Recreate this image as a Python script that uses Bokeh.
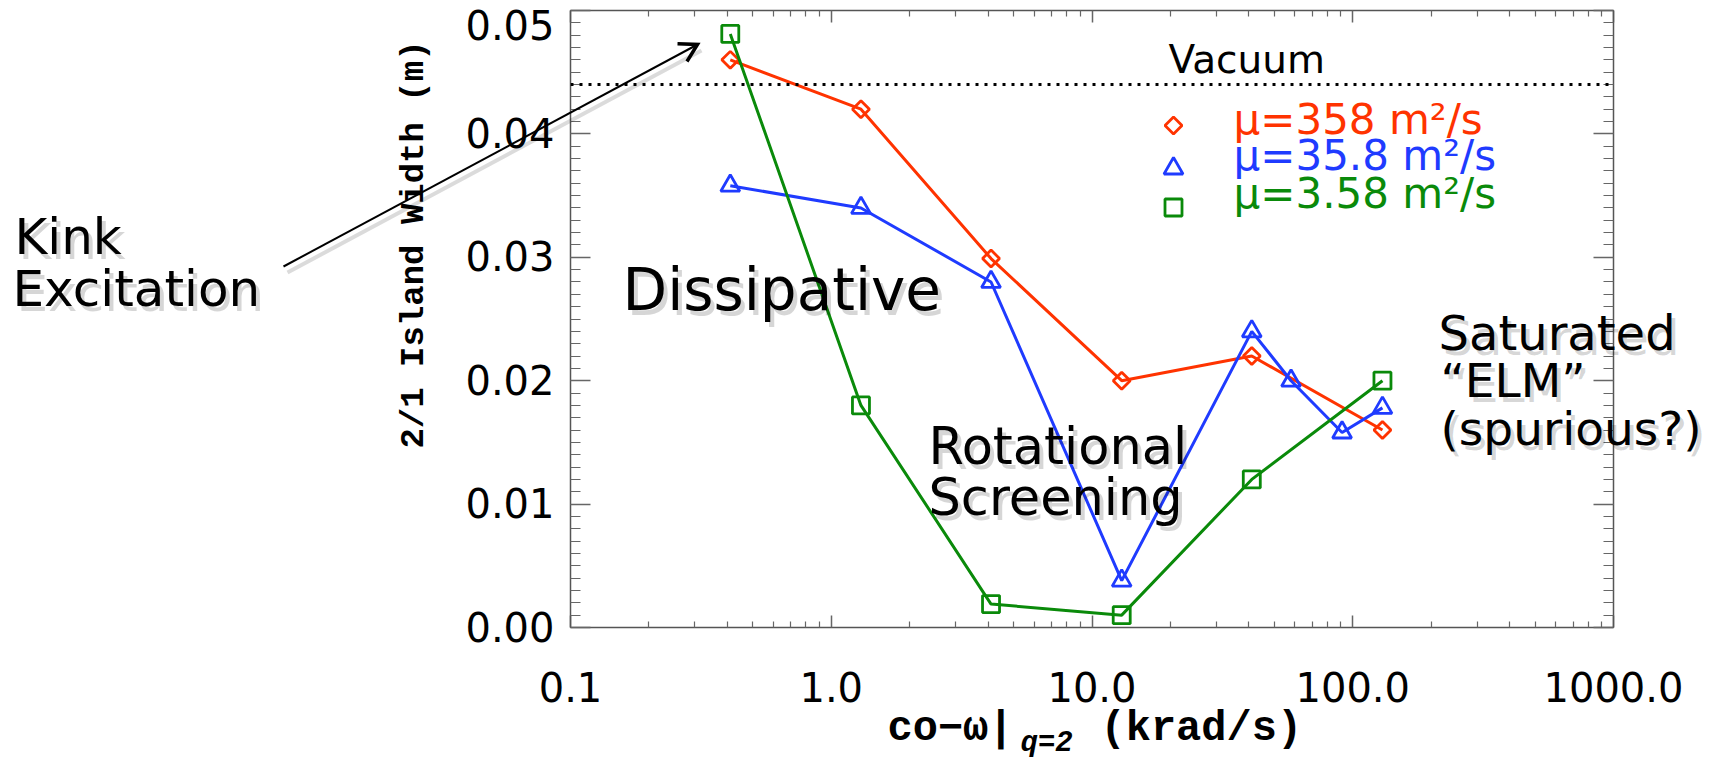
import math
from bokeh.plotting import figure
from bokeh.models import (Range1d, LinearAxis, LogAxis, FixedTicker, Span)
from bokeh.core.properties import value
from bokeh.embed import file_html
from bokeh.resources import INLINE

# ---------------- data ----------------
rate_358 = [0.41, 1.3, 4.1, 13.0, 41.0, 130.0]
width_358 = [0.0460, 0.0420, 0.0299, 0.0200, 0.0220, 0.0160]

rate_35_8 = [0.41, 1.3, 4.1, 13.0, 41.0, 58.0, 91.0, 130.0]
width_35_8 = [0.0358, 0.0340, 0.0280, 0.0038, 0.0240, 0.0200, 0.0158, 0.0178]

rate_3_58 = [0.41, 1.3, 4.1, 13.0, 41.0, 130.0]
width_3_58 = [0.0481, 0.0180, 0.0019, 0.0010, 0.0120, 0.0200]

vacuum_width = 0.0440

series_labels = ["\u03bc=358 m\u00b2/s", "\u03bc=35.8 m\u00b2/s", "\u03bc=3.58 m\u00b2/s"]
series_colors = ["#ff3300", "#1f3bff", "#0a8a0a"]

x_tick_values = [0.1, 1, 10, 100, 1000]
x_tick_labels = ["0.1", "1.0", "10.0", "100.0", "1000.0"]
y_tick_values = [0.0, 0.01, 0.02, 0.03, 0.04, 0.05]
y_tick_labels = ["0.00", "0.01", "0.02", "0.03", "0.04", "0.05"]

X0, X1 = 0.1, 1000.0
Y0, Y1 = 0.0, 0.05

# ---------------- layout ----------------
W, H = 1712, 759
FL, FR, FT, FB = 570, 1613, 10, 627   # frame edges in pixels


def dx(sx):
    """pixel x -> data x (log axis), for annotation placement"""
    lo, hi = math.log10(X0), math.log10(X1)
    return 10 ** (lo + (sx - FL) / (FR - FL) * (hi - lo))


def dy(sy):
    """pixel y -> data y, for annotation placement"""
    return Y1 - (sy - FT) / (FB - FT) * (Y1 - Y0)


p = figure(width=W, height=H, x_axis_type="log",
           x_range=Range1d(X0, X1), y_range=Range1d(Y0, Y1),
           output_backend="svg", toolbar_location=None,
           min_border_left=FL, min_border_right=W - FR,
           min_border_top=FT, min_border_bottom=H - FB)
p.xgrid.visible = False
p.ygrid.visible = False
p.outline_line_color = "#555555"
p.background_fill_color = "white"
p.border_fill_color = "white"

x_minor = [m * 10 ** e for e in range(-1, 3) for m in range(2, 10)]
y_minor = [round(k * 0.001, 3) for k in range(0, 51)]

AX_COLOR = "#555555"
TICK_FONT = "DejaVu Sans"


def style_axis(ax, show, major_in, minor_in, ticks):
    ax.axis_line_color = AX_COLOR
    ax.axis_line_width = 1.5
    ax.major_tick_in = major_in
    ax.major_tick_out = 0
    ax.minor_tick_in = minor_in
    ax.minor_tick_out = 0
    ax.major_tick_line_color = "#666666"
    ax.minor_tick_line_color = "#666666"
    ax.major_tick_line_width = 1.5
    ax.minor_tick_line_width = 1.2
    if show:
        ax.major_label_text_font = TICK_FONT
        ax.major_label_text_font_size = "40px"
        ax.major_label_text_color = "black"
    else:
        ax.major_label_overrides = {t: "" for t in ticks}
        ax.major_label_text_font_size = "1px"
        ax.major_label_standoff = 0
        ax.axis_label_standoff = 0


xb = p.xaxis[0]
xb.ticker = FixedTicker(ticks=x_tick_values, minor_ticks=x_minor)
xb.major_label_overrides = dict(zip(x_tick_values, x_tick_labels))
style_axis(xb, True, 12, 6, x_tick_values)
xb.major_label_standoff = 44

yl = p.yaxis[0]
yl.ticker = FixedTicker(ticks=y_tick_values, minor_ticks=y_minor)
y_over = dict(zip(y_tick_values, y_tick_labels))
# the top label sits a little below its tick in the original (kept inside the page)
y_over[y_tick_values[-1]] = "\n" + y_tick_labels[-1]
yl.major_label_overrides = y_over
style_axis(yl, True, 20, 10, y_tick_values)
yl.major_label_text_line_height = 0.05
yl.major_label_standoff = 16

xt = LogAxis(ticker=FixedTicker(ticks=x_tick_values, minor_ticks=x_minor))
style_axis(xt, False, 12, 6, x_tick_values)
p.add_layout(xt, "above")

yr = LinearAxis(ticker=FixedTicker(ticks=y_tick_values, minor_ticks=y_minor))
style_axis(yr, False, 20, 10, y_tick_values)
p.add_layout(yr, "right")

# vacuum dotted line
p.add_layout(Span(location=vacuum_width, dimension="width", line_color="black",
                  line_width=3, line_dash="3 6"))

# ---------------- series ----------------
series = [(rate_358, width_358, "square", 12, math.pi / 4),
          (rate_35_8, width_35_8, "triangle", 19, 0.0),
          (rate_3_58, width_3_58, "square", 17, 0.0)]
for (xs, ys, mk, sz, ang), col in zip(series, series_colors):
    p.line(xs, ys, line_color=col, line_width=3)
    p.scatter(xs, ys, marker=mk, size=sz, angle=ang, fill_color=None,
              line_color=col, line_width=2.8)

# offset from the text's "middle" to its alphabetic baseline, per font (in em)
MID_TO_BASE = {"DejaVu Sans": 0.36, "Liberation Mono": 0.27}


def txt(text, sx, sy, size, font="DejaVu Sans", color="black", style="normal",
        angle=0.0, align="left", alpha=1.0, centered=False):
    fs = float(size.replace("px", ""))
    cy = sy if centered else sy - MID_TO_BASE[font] * fs
    r = p.text(x=[dx(sx)], y=[dy(cy)], text=[text], angle=angle,
               text_font=value(font), text_font_size=value(size),
               text_font_style=style, text_color=color, text_alpha=alpha,
               text_align=align, text_baseline="middle")
    r.level = "overlay"
    return r


# ---------------- legend (drawn like the original) ----------------
leg_marker_y = [125, 168, 207]
leg_text_base = [134, 170, 208]
for i, ((xs, ys, mk, sz, ang), col) in enumerate(zip(series, series_colors)):
    p.scatter([dx(1173)], [dy(leg_marker_y[i])], marker=mk, size=sz, angle=ang,
              fill_color=None, line_color=col, line_width=2.8)
    txt(series_labels[i], 1233, leg_text_base[i], "42px", font=TICK_FONT, color=col)

txt("Vacuum", 1168, 73, "39px", font=TICK_FONT)

# ---------------- axis titles ----------------
txt("2/1 Island Width (m)", 413, 244, "34px", font="Liberation Mono", style="bold",
    angle=math.pi / 2, align="center", centered=True)

XL_FS = 42
xl_base = 740
txt("co\u2212\u03c9|", 887, xl_base, f"{XL_FS}px", font="Liberation Mono", style="bold")
txt("q=2", 1020, xl_base + 11, "29px", font="Liberation Mono", style="bold italic")
txt("(krad/s)", 1100, xl_base, f"{XL_FS}px", font="Liberation Mono", style="bold")

# ---------------- annotations with soft shadows ----------------
ANN_FONT = "DejaVu Sans"


def note(text, sx, sy, size):
    txt(text, sx + 4, sy + 5, size, font=ANN_FONT, alpha=0.16)
    txt(text, sx, sy, size, font=ANN_FONT)


note("Kink", 14, 254, "50px")
note("Excitation", 12, 306, "50px")
note("Dissipative", 622, 310, "58px")
note("Rotational", 928, 464, "51px")
note("Screening", 928, 515, "51px")
note("Saturated", 1438, 350, "48px")
note("\u201cELM\u201d", 1440, 397, "47px")
note("(spurious?)", 1440, 445, "47px")

# arrow (shaft + open head) with a soft shadow
ax0, ay0, ax1, ay1 = 283, 266, 697, 44
ang_a = math.atan2(ay1 - ay0, ax1 - ax0)
head_len = 20
wing = math.radians(30)
hx = [ax1 - head_len * math.cos(ang_a + s * wing) for s in (1, -1)]
hy = [ay1 - head_len * math.sin(ang_a + s * wing) for s in (1, -1)]
sh = p.segment(x0=[dx(ax0 + 4)], y0=[dy(ay0 + 6)], x1=[dx(ax1 + 4)], y1=[dy(ay1 + 6)],
               line_color="black", line_alpha=0.14, line_width=4)
sh.level = "overlay"
shaft = p.segment(x0=[dx(ax0)], y0=[dy(ay0)], x1=[dx(ax1)], y1=[dy(ay1)],
                  line_color="black", line_width=2)
shaft.level = "overlay"
head = p.multi_line(xs=[[dx(hx[0]), dx(ax1), dx(hx[1])]], ys=[[dy(hy[0]), dy(ay1), dy(hy[1])]],
                    line_color="black", line_width=3.5, line_join="miter")
head.level = "overlay"

open("out.html", "w").write(file_html(p, INLINE))
